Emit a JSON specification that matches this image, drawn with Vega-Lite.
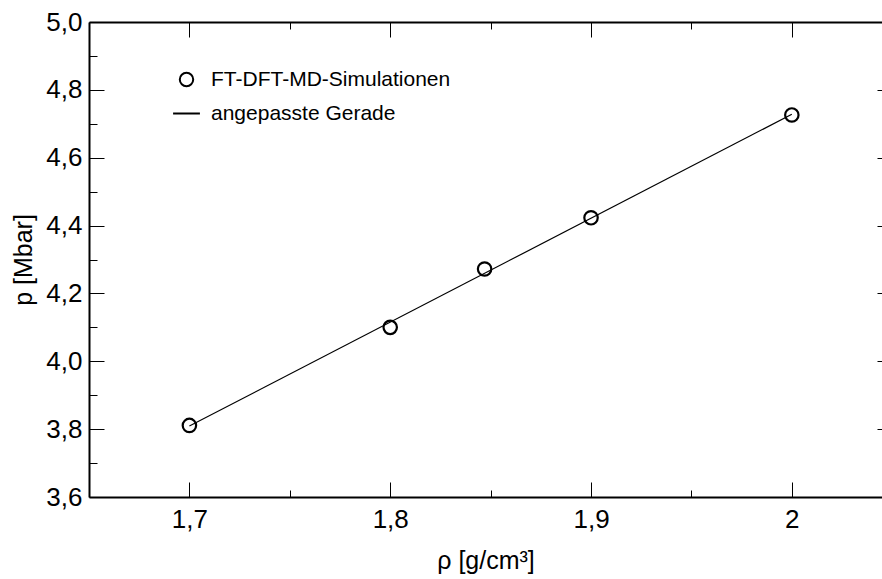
{
  "$schema": "https://vega.github.io/schema/vega-lite/v6.json",
  "width": 793,
  "height": 475,
  "autosize": {"type": "none"},
  "padding": {"left": 89, "top": 22, "right": 0, "bottom": 82},
  "background": "white",
  "config": {
    "view": {"stroke": null},
    "font": "Liberation Sans",
    "axis": {
      "grid": false,
      "domainColor": "black",
      "domainWidth": 2,
      "tickColor": "black",
      "tickWidth": 1,
      "labelColor": "black",
      "titleColor": "black",
      "labelFont": "Liberation Sans",
      "titleFont": "Liberation Sans",
      "labelFontSize": 26,
      "titleFontSize": 25,
      "titleFontWeight": "normal"
    }
  },
  "datasets": {
    "sim": [
      {"rho": 1.7, "p": 3.811, "series": "FT-DFT-MD-Simulationen"},
      {"rho": 1.8, "p": 4.1, "series": "FT-DFT-MD-Simulationen"},
      {"rho": 1.847, "p": 4.272, "series": "FT-DFT-MD-Simulationen"},
      {"rho": 1.9, "p": 4.423, "series": "FT-DFT-MD-Simulationen"},
      {"rho": 2.0, "p": 4.726, "series": "FT-DFT-MD-Simulationen"}
    ],
    "fit": [
      {"rho": 1.7, "p": 3.809, "series": "angepasste Gerade"},
      {"rho": 2.0, "p": 4.728, "series": "angepasste Gerade"}
    ]
  },
  "layer": [
    {
      "data": {"name": "fit"},
      "mark": {"type": "line", "color": "black", "strokeWidth": 1.2},
      "encoding": {
        "x": {
          "field": "rho", "type": "quantitative",
          "scale": {"domain": [1.65, 2.0449], "nice": false, "zero": false},
          "axis": {
            "orient": "bottom", "values": [1.7, 1.8, 1.9, 2.0], "tickSize": -15,
            "labelPadding": 24, "labelExpr": "replace(format(datum.value, '~g'), '.', ',')",
            "title": "ρ [g/cm³]", "titlePadding": 16, "domain": true
          }
        },
        "y": {
          "field": "p", "type": "quantitative",
          "scale": {"domain": [3.6, 5.0], "nice": false, "zero": false},
          "axis": {
            "orient": "left", "values": [3.6, 3.8, 4.0, 4.2, 4.4, 4.6, 4.8, 5.0], "tickSize": -15,
            "labelPadding": 22, "labelExpr": "replace(format(datum.value, '.1f'), '.', ',')",
            "title": "p [Mbar]", "titlePadding": 9, "domain": true
          }
        }
      }
    },
    {
      "data": {"name": "sim"},
      "mark": {"type": "point", "filled": false, "stroke": "black", "strokeWidth": 2.2, "size": 180, "opacity": 1},
      "encoding": {
        "x": {
          "field": "rho", "type": "quantitative",
          "scale": {"domain": [1.65, 2.0449], "nice": false, "zero": false},
          "axis": {"orient": "bottom", "values": [1.75, 1.85, 1.95], "tickSize": -7, "labels": false, "domain": false, "title": null}
        },
        "y": {
          "field": "p", "type": "quantitative",
          "scale": {"domain": [3.6, 5.0], "nice": false, "zero": false},
          "axis": {"orient": "left", "values": [3.7, 3.9, 4.1, 4.3, 4.5, 4.7, 4.9], "tickSize": -8, "labels": false, "domain": false, "title": null}
        },
        "shape": {
          "field": "series", "type": "nominal",
          "scale": {"domain": ["FT-DFT-MD-Simulationen", "angepasste Gerade"], "range": ["circle", "M-2,0H2"]},
          "legend": {
            "orient": "none", "legendX": 87, "legendY": 47, "title": null,
            "labelFont": "Liberation Sans", "labelFontSize": 21, "labelColor": "black", "labelLimit": 400,
            "symbolSize": 180, "symbolStrokeColor": "black", "symbolStrokeWidth": 2, "symbolFillColor": "transparent",
            "labelOffset": 14, "rowPadding": 11, "padding": 0,
            "encode": {"symbols": {"update": {"strokeWidth": {"signal": "datum.value === 'angepasste Gerade' ? 1 : 2"}}}}
          }
        }
      }
    },
    {
      "data": {"name": "sim"},
      "mark": {"type": "point", "opacity": 0},
      "encoding": {
        "x": {
          "field": "rho", "type": "quantitative",
          "scale": {"domain": [1.65, 2.0449], "nice": false, "zero": false},
          "axis": {"orient": "top", "values": [1.7, 1.8, 1.9, 2.0], "tickSize": -15, "labels": false, "domain": true, "title": null}
        },
        "y": {
          "field": "p", "type": "quantitative",
          "scale": {"domain": [3.6, 5.0], "nice": false, "zero": false},
          "axis": {"orient": "right", "offset": 10, "values": [3.6, 3.8, 4.0, 4.2, 4.4, 4.6, 4.8, 5.0], "tickSize": -15, "labels": false, "domain": false, "title": null}
        }
      }
    },
    {
      "data": {"name": "sim"},
      "mark": {"type": "point", "opacity": 0},
      "encoding": {
        "x": {
          "field": "rho", "type": "quantitative",
          "scale": {"domain": [1.65, 2.0449], "nice": false, "zero": false},
          "axis": {"orient": "top", "values": [1.75, 1.85, 1.95], "tickSize": -7, "labels": false, "domain": false, "title": null}
        },
        "y": {
          "field": "p", "type": "quantitative",
          "scale": {"domain": [3.6, 5.0], "nice": false, "zero": false},
          "axis": null
        }
      }
    }
  ],
  "resolve": {"axis": {"x": "independent", "y": "independent"}}
}
